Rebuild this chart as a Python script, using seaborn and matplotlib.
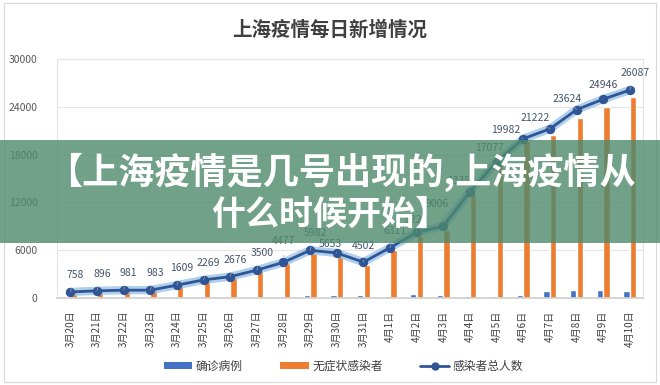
import matplotlib
matplotlib.use('Agg')
import matplotlib.pyplot as plt
import pandas as pd
import seaborn as sns
from matplotlib.patches import Rectangle, Patch
from matplotlib.lines import Line2D

# Data
dates = ['3月20日', '3月21日', '3月22日', '3月23日', '3月24日', '3月25日', '3月26日', '3月27日',
         '3月28日', '3月29日', '3月30日', '3月31日', '4月1日', '4月2日', '4月3日', '4月4日',
         '4月5日', '4月6日', '4月7日', '4月8日', '4月9日', '4月10日']
confirmed = [24, 31, 4, 4, 29, 38, 45, 50, 96, 326, 355, 358, 260, 438, 425, 268,
             311, 322, 824, 1015, 1006, 914]
asymptomatic = [734, 865, 977, 979, 1580, 2231, 2631, 3450, 4381, 5656, 5298, 4144, 6051, 7788,
                8581, 13086, 16766, 19660, 20398, 22609, 23940, 25173]
total = [758, 896, 981, 983, 1609, 2269, 2676, 3500, 4477, 5982, 5653, 4502, 6311, 8226,
         9006, 13354, 17077, 19982, 21222, 23624, 24946, 26087]
series_names = ['确诊病例', '无症状感染者', '感染者总人数']
title = '上海疫情每日新增情况'
banner_lines = ['【上海疫情是几号出现的,上海疫情从', '什么时候开始】']

sns.set_theme(style='white')
plt.rcParams['font.family'] = ['Noto Sans CJK SC', 'DejaVu Sans']

blue = '#4472C4'
orange = '#ED7D31'
line_c = '#2F5597'

df_bar = pd.DataFrame({
    'date': dates * 2,
    'value': confirmed + asymptomatic,
    'kind': [series_names[0]] * len(dates) + [series_names[1]] * len(dates),
})

fig = plt.figure(figsize=(6.6, 3.85), dpi=100)
ax = fig.add_axes([0.0864, 0.226, 0.888, 0.621])

sns.barplot(data=df_bar, x='date', y='value', hue='kind', order=dates,
            palette=[blue, orange], width=0.5, gap=0.05, legend=False, ax=ax,
            saturation=1, zorder=2)

xs = list(range(len(dates)))
ax.plot(xs, total, color='#9DC3E6', lw=6, alpha=0.8, solid_capstyle='round', zorder=3)
sns.lineplot(x=xs, y=total, color=line_c, lw=2, marker='o', markersize=6,
             markeredgecolor=line_c, ax=ax, zorder=4)

# label offsets in pixels (dx, dy)
offsets = {10: (-6, 9), 11: (0, 16), 13: (0, 12), 14: (-6, 22), 15: (-8, 11), 16: (-7, 14),
           17: (-18, 9), 18: (-15, 11), 19: (-9, 11), 20: (0, 14), 8: (0, 21)}
for i, v in enumerate(total):
    dx, dy = offsets.get(i, (5, 17))
    ax.annotate(str(v), (i, v), xytext=(dx, dy), textcoords='offset pixels',
                ha='center', va='center', fontsize=7.5, color='#44546A', zorder=5,
                arrowprops=dict(arrowstyle='-', color='#A6A6A6', lw=0.5,
                                shrinkA=4, shrinkB=4))

ax.set_ylim(0, 30000)
ax.set_yticks(range(0, 30001, 6000))
ax.set_xlim(-0.5, len(dates) - 0.5)
ax.set_xlabel('')
ax.set_ylabel('')
ax.grid(axis='y', color='#E4E4E4', lw=0.8)
ax.set_axisbelow(True)
ax.tick_params(axis='x', labelrotation=90, labelsize=7.2, colors='#404040', pad=3)
ax.tick_params(axis='y', labelsize=7.5, colors='#595959', pad=8)
for s in ['top', 'right', 'left']:
    ax.spines[s].set_color('#E4E4E4')
    ax.spines[s].set_linewidth(0.8)
ax.spines['bottom'].set_color('#D0D0D0')

fig.text(0.5, 0.922, title, ha='center', va='center', fontsize=14,
         fontweight='bold', color='#404040')

handles = [Patch(facecolor=blue, edgecolor='none'),
           Patch(facecolor=orange, edgecolor='none'),
           Line2D([], [], color=line_c, lw=2, marker='o', markersize=5)]
fig.legend(handles, series_names, loc='center', bbox_to_anchor=(0.52, 0.048), ncol=3,
           frameon=False, fontsize=8.5, handlelength=2.4, handleheight=0.5,
           columnspacing=3.2, handletextpad=0.3, labelcolor='#404040')

# outer frame
fig.patches.append(Rectangle((0.006, 0.008), 0.988, 0.984, transform=fig.transFigure,
                             fill=False, edgecolor='#D9D9D9', lw=0.8))

# green banner overlay
fig.patches.append(Rectangle((0, 0.369), 1, 0.267, transform=fig.transFigure,
                             facecolor='#4E8A6C', alpha=0.8, edgecolor='none', zorder=10))
fig.text(0.517, 0.553, banner_lines[0], ha='center', va='center', fontsize=26,
         fontweight='bold', color='white', zorder=11)
fig.text(0.5, 0.444, banner_lines[1], ha='center', va='center', fontsize=24.5,
         fontweight='bold', color='white', zorder=11)

fig.savefig('out.png', dpi=100)
